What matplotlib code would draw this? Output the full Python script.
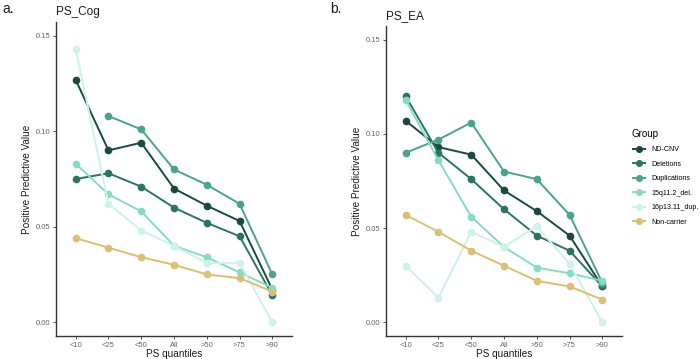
import matplotlib
matplotlib.use("Agg")
import matplotlib.pyplot as plt
import numpy as np

plt.rcParams['font.family'] = ['Liberation Sans', 'DejaVu Sans']

quantiles = ["<10", "<25", "<50", "All", ">50", ">75", ">90"]
groups = ["ND-CNV", "Deletions", "Duplications", "15q11.2_del.", "16p13.11_dup.", "Non-carrier"]
colors = ["#1a4a38", "#2b7560", "#48a58a", "#86dcc3", "#cdf2e6", "#dcbf72"]

# Panel a: PS_Cog
cog_nd_cnv = [0.127, 0.090, 0.094, 0.070, 0.061, 0.053, 0.017]
cog_deletions = [0.075, 0.078, 0.071, 0.060, 0.052, 0.045, 0.014]
cog_duplications = [np.nan, 0.108, 0.101, 0.080, 0.072, 0.062, 0.025]
cog_15q = [0.083, 0.067, 0.058, 0.040, 0.034, 0.026, 0.018]
cog_16p = [0.143, 0.062, 0.048, 0.040, 0.031, 0.031, 0.000]
cog_noncarrier = [0.044, 0.039, 0.034, 0.030, 0.025, 0.023, 0.016]

# Panel b: PS_EA
ea_nd_cnv = [0.107, 0.093, 0.089, 0.070, 0.059, 0.046, 0.019]
ea_deletions = [0.120, 0.090, 0.076, 0.060, 0.046, 0.038, 0.019]
ea_duplications = [0.090, 0.097, 0.106, 0.080, 0.076, 0.057, 0.021]
ea_15q = [0.118, 0.086, 0.056, 0.040, 0.029, 0.026, 0.022]
ea_16p = [0.030, 0.013, 0.048, 0.040, 0.051, 0.031, 0.000]
ea_noncarrier = [0.057, 0.048, 0.038, 0.030, 0.022, 0.019, 0.012]

cog = [cog_nd_cnv, cog_deletions, cog_duplications, cog_15q, cog_16p, cog_noncarrier]
ea = [ea_nd_cnv, ea_deletions, ea_duplications, ea_15q, ea_16p, ea_noncarrier]

W, H = 700, 359
fig = plt.figure(figsize=(W / 100, H / 100), dpi=100)

def ax_px(l, t, r, b):
    return fig.add_axes([l / W, 1 - b / H, (r - l) / W, (b - t) / H])

axa = ax_px(56, 22, 292, 336)
axb = ax_px(386, 26, 622, 336)

x = np.arange(len(quantiles))
for ax, data, title in [(axa, cog, "PS_Cog"), (axb, ea, "PS_EA")]:
    for vals, c, g in zip(data, colors, groups):
        v = np.array(vals, dtype=float)
        ax.plot(x, v, color=c, lw=1.4, marker="o", ms=4.5, label=g, solid_capstyle="butt")
    ax.set_xlim(-0.6, 6.6)
    ax.set_ylim(-0.0073, 0.1573)
    ax.set_xticks(x)
    ax.set_xticklabels(quantiles)
    ax.set_yticks([0.0, 0.05, 0.10, 0.15])
    ax.set_yticklabels(["0.00", "0.05", "0.10", "0.15"])
    ax.tick_params(axis="both", labelsize=5.5, labelcolor="#666666", color="#333333",
                   length=2.5, width=0.6, pad=1.5)
    for s in ["top", "right"]:
        ax.spines[s].set_visible(False)
    for s in ["left", "bottom"]:
        ax.spines[s].set_color("#333333")
        ax.spines[s].set_linewidth(1.0)
    ax.set_xlabel("PS quantiles", fontsize=7.2, color="#1a1a1a", labelpad=0)
    ax.set_ylabel("Positive Predictive Value", fontsize=7.2, color="#1a1a1a", labelpad=3)
    ax.set_title(title, fontsize=8.5, loc="left", pad=5, color="#1a1a1a")

fig.text(2 / W, 1 - 9 / H, "a.", fontsize=10, va="center", ha="left", color="#1a1a1a")
fig.text(330 / W, 1 - 9 / H, "b.", fontsize=10, va="center", ha="left", color="#1a1a1a")

handles, labels = axb.get_legend_handles_labels()
leg = fig.legend(handles, labels, title="Group", loc="upper left",
                 bbox_to_anchor=(632 / W, 1 - 129 / H), frameon=False,
                 fontsize=5.1, title_fontsize=7.0, handlelength=2.0,
                 labelspacing=1.05, handletextpad=0.7, borderaxespad=0, borderpad=0,
                 markerscale=0.9)
leg._legend_box.align = "left"

fig.savefig("out.png", dpi=100)
